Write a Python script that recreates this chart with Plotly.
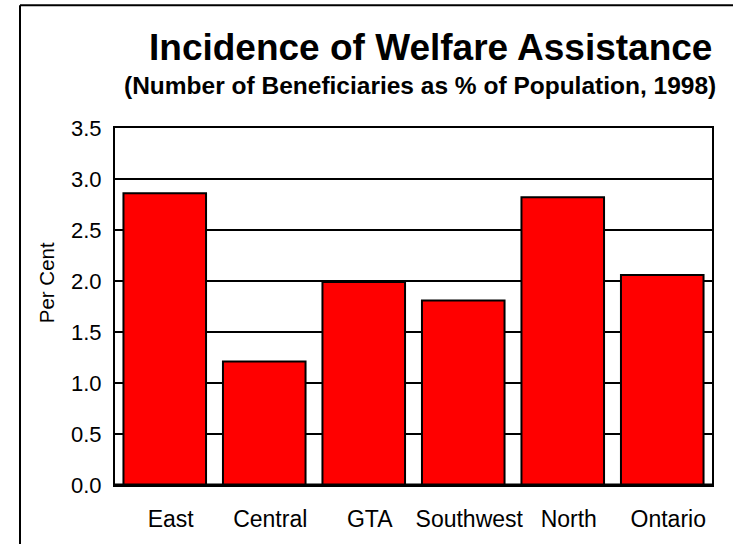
import plotly.graph_objects as go

categories = ["East", "Central", "GTA", "Southwest", "North", "Ontario"]
values = [2.86, 1.21, 1.99, 1.81, 2.82, 2.06]
y_ticks = [0.0, 0.5, 1.0, 1.5, 2.0, 2.5, 3.0, 3.5]
y_tick_labels = ["0.0", "0.5", "1.0", "1.5", "2.0", "2.5", "3.0", "3.5"]

title_text = "Incidence of Welfare Assistance"
subtitle_text = "(Number of Beneficiaries as % of Population, 1998)"
y_title = "Per Cent"

W, H = 736, 544
L, R, T, B = 115, 24, 128, 55
pw, ph = W - L - R, H - T - B

def px(x):
    return (x - L) / pw

def py(y):
    return (H - B - y) / ph

FONT = "Liberation Sans, Arial, sans-serif"

fig = go.Figure(go.Bar(
    x=categories, y=values,
    marker=dict(color="#FF0000", line=dict(color="black", width=2)),
))

fig.update_layout(
    width=W, height=H,
    margin=dict(l=L, r=R, t=T, b=B, pad=0),
    paper_bgcolor="white", plot_bgcolor="white",
    bargap=0.17,
    showlegend=False,
    font=dict(family=FONT, color="black"),
    xaxis=dict(
        showgrid=False, showline=True, linecolor="black", linewidth=2, mirror=True,
        ticks="", tickfont=dict(size=23, family=FONT), ticklabelshift=6,
        ticklabelstandoff=12,
    ),
    yaxis=dict(
        range=[0, 3.5], tickvals=y_ticks, ticktext=y_tick_labels,
        showgrid=True, gridcolor="black", gridwidth=2,
        showline=True, linecolor="black", linewidth=2, mirror=True,
        zeroline=False, ticks="", tickfont=dict(size=22, family=FONT),
        ticklabelstandoff=7,
    ),
    shapes=[
        dict(type="line", xref="paper", yref="y", x0=0, x1=1, y0=0, y1=0,
             line=dict(color="black", width=3)),
        dict(type="line", xref="paper", yref="paper", x0=px(20), x1=px(733), y0=py(4), y1=py(4),
             line=dict(color="black", width=2)),
        dict(type="line", xref="paper", yref="paper", x0=px(20), x1=px(20), y0=py(4), y1=py(560),
             line=dict(color="black", width=2)),
    ],
    annotations=[
        dict(text="<b>" + title_text + "</b>", xref="paper", yref="paper",
             x=px(430), y=py(47), xanchor="center", yanchor="middle",
             showarrow=False, font=dict(size=37, family=FONT)),
        dict(text="<b>" + subtitle_text + "</b>", xref="paper", yref="paper",
             x=px(419.5), y=py(85), xanchor="center", yanchor="middle",
             showarrow=False, font=dict(size=24.5, family=FONT)),
        dict(text=y_title, xref="paper", yref="paper",
             x=px(46), y=py(285), xanchor="center", yanchor="middle", textangle=-90,
             showarrow=False, font=dict(size=20.5, family=FONT)),
    ],
)

fig.write_html("out.html")
